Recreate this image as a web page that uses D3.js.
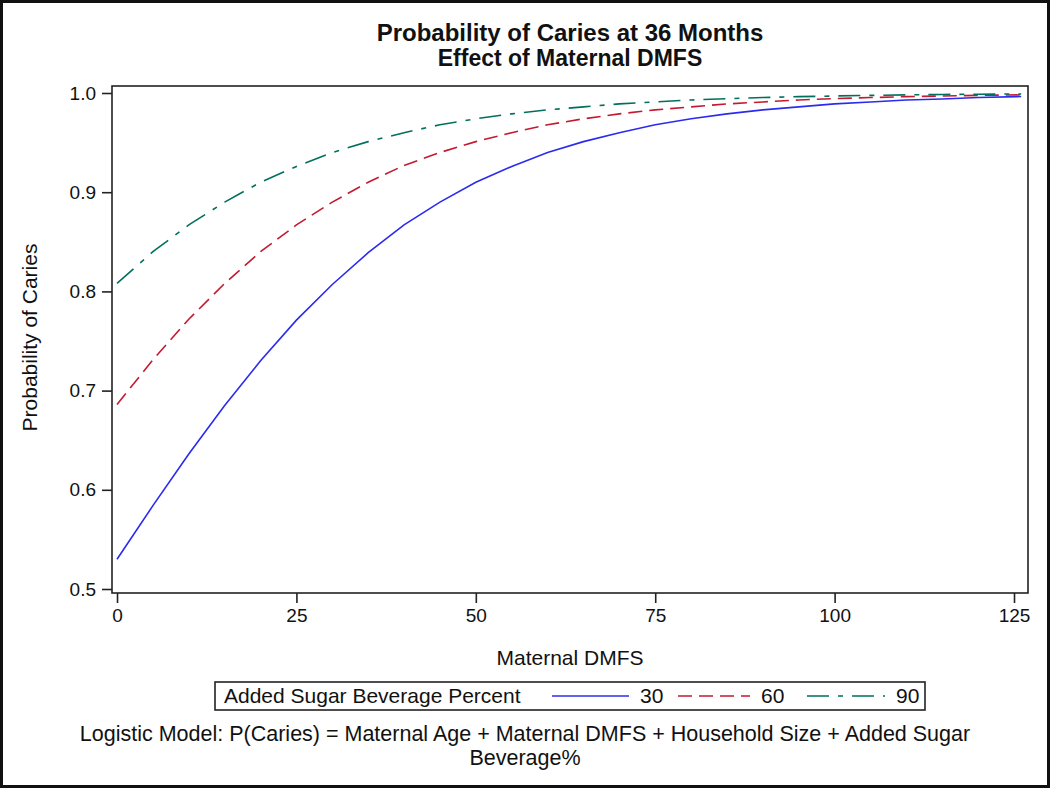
<!DOCTYPE html>
<html>
<head>
<meta charset="utf-8">
<script src="https://cdn.jsdelivr.net/npm/d3@7"></script>
<style>
  html, body { margin: 0; padding: 0; background: #fff; }
  text { font-family: "Liberation Sans", Arial, sans-serif; fill: #111; }
</style>
</head>
<body>
<svg id="chart" width="1050" height="788"></svg>
<script>
// ---- data ----
const dmfs = [0,5,10,15,20,25,30,35,40,45,50,55,60,65,70,75,80,85,90,95,100,105,110,115,120,126];
const sugar30 = [0.530,0.584,0.636,0.685,0.730,0.771,0.807,0.839,0.867,0.890,0.910,0.926,0.940,0.951,0.960,0.968,0.974,0.979,0.983,0.986,0.989,0.991,0.993,0.994,0.9954,0.9964];
const sugar60 = [0.686,0.731,0.772,0.808,0.840,0.867,0.890,0.910,0.927,0.940,0.951,0.960,0.968,0.974,0.979,0.983,0.986,0.989,0.991,0.993,0.9943,0.9954,0.9963,0.9970,0.9976,0.9981];
const sugar90 = [0.808,0.840,0.867,0.890,0.910,0.926,0.940,0.951,0.960,0.968,0.974,0.979,0.983,0.986,0.989,0.991,0.993,0.9943,0.9954,0.9963,0.9970,0.9976,0.9981,0.9985,0.9988,0.9990];
const seriesNames = ["30","60","90"];
const xTicks = [0,25,50,75,100,125];
const yTicks = [0.5,0.6,0.7,0.8,0.9,1.0];
const titleText = "Probability of Caries at 36 Months";
const subtitleText = "Effect of Maternal DMFS";
const xLabel = "Maternal DMFS";
const yLabel = "Probability of Caries";
const legendTitle = "Added Sugar Beverage Percent";
const footLines = ["Logistic Model: P(Caries) = Maternal Age + Maternal DMFS + Household Size + Added Sugar", "Beverage%"];

// ---- styles ----
const colors = ["#2b2bf0", "#c41a30", "#00705c"];
const dashes = [null, "14,7", "22,9,5,9"];

const svg = d3.select("#chart");
const W = 1050, H = 788;
const plot = {left: 112, right: 1028, top: 86, bottom: 593};

// outer border
svg.append("rect").attr("x", 1.5).attr("y", 1.5).attr("width", W - 3).attr("height", H - 3)
  .attr("fill", "#fff").attr("stroke", "#111").attr("stroke-width", 3);

const x = d3.scaleLinear().domain([-0.7, 126.95]).range([plot.left, plot.right]);
const y = d3.scaleLinear().domain([0.49597, 1.00706]).range([plot.bottom, plot.top]);

// titles
const cx = (plot.left + plot.right) / 2;
svg.append("text").attr("x", cx).attr("y", 41).attr("text-anchor", "middle")
  .attr("font-size", 24).attr("font-weight", "bold").text(titleText);
svg.append("text").attr("x", cx).attr("y", 66).attr("text-anchor", "middle")
  .attr("font-size", 23).attr("font-weight", "bold").text(subtitleText);

// lines
const series = [sugar30, sugar60, sugar90];
const line = d3.line().x(d => x(d[0])).y(d => y(d[1]));
const g = svg.append("g");
series.forEach((vals, i) => {
  const pts = dmfs.map((d, j) => [d, vals[j]]);
  g.append("path").datum(pts).attr("d", line)
    .attr("fill", "none").attr("stroke", colors[i]).attr("stroke-width", 1.6)
    .attr("stroke-dasharray", dashes[i]);
});

// frame
svg.append("rect").attr("x", plot.left).attr("y", plot.top)
  .attr("width", plot.right - plot.left).attr("height", plot.bottom - plot.top)
  .attr("fill", "none").attr("stroke", "#222").attr("stroke-width", 1.6);

// axes
const xAxis = d3.axisBottom(x).tickValues(xTicks).tickSize(10).tickPadding(6).tickFormat(d3.format("d"));
const gx = svg.append("g").attr("transform", `translate(0,${plot.bottom})`).call(xAxis);
gx.select(".domain").remove();
gx.selectAll("line").attr("stroke", "#222").attr("stroke-width", 1.6);
gx.selectAll("text").attr("font-size", 19).attr("fill", "#111")
  .attr("font-family", "'Liberation Sans', Arial, sans-serif");

const yAxis = d3.axisLeft(y).tickValues(yTicks).tickSize(10).tickPadding(6).tickFormat(d3.format(".1f"));
const gy = svg.append("g").attr("transform", `translate(${plot.left},0)`).call(yAxis);
gy.select(".domain").remove();
gy.selectAll("line").attr("stroke", "#222").attr("stroke-width", 1.6);
gy.selectAll("text").attr("font-size", 19).attr("fill", "#111")
  .attr("font-family", "'Liberation Sans', Arial, sans-serif");

// axis labels
svg.append("text").attr("x", cx).attr("y", 665).attr("text-anchor", "middle")
  .attr("font-size", 21).text(xLabel);
svg.append("text").attr("transform", `translate(37,${(plot.top + plot.bottom) / 2 - 2}) rotate(-90)`)
  .attr("text-anchor", "middle").attr("font-size", 21).text(yLabel);

// legend
const leg = svg.append("g");
leg.append("rect").attr("x", 215).attr("y", 682).attr("width", 710).attr("height", 28)
  .attr("fill", "#fff").attr("stroke", "#222").attr("stroke-width", 1.6);
leg.append("text").attr("x", 224).attr("y", 703).attr("font-size", 21).text(legendTitle);
const legX = [552, 678, 807];
const legW = [77, 72, 78];
seriesNames.forEach((nm, i) => {
  leg.append("line").attr("x1", legX[i]).attr("x2", legX[i] + legW[i])
    .attr("y1", 696).attr("y2", 696)
    .attr("stroke", colors[i]).attr("stroke-width", 1.6).attr("stroke-dasharray", dashes[i]);
  leg.append("text").attr("x", legX[i] + legW[i] + 11).attr("y", 703)
    .attr("font-size", 21).text(nm);
});

// footnote
footLines.forEach((t, i) => {
  svg.append("text").attr("x", W / 2).attr("y", 741 + i * 24).attr("text-anchor", "middle")
    .attr("font-size", 21.5).text(t);
});
</script>
</body>
</html>
